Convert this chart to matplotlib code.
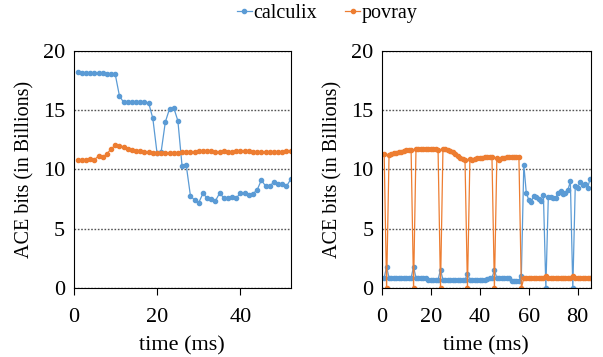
"""
ACE bits over time for calculix and povray, run alone (left) and co-scheduled (right).
"""

import matplotlib.pyplot as plt
import numpy as np

plt.rcParams['font.family'] = ['Liberation Serif', 'DejaVu Serif']
plt.rcParams['font.size'] = 16

# Left panel: 1 ms samples
left_calculix = [18.2, 18.1, 18.1, 18.1, 18.1, 18.1, 18.1, 18.0, 18.0, 18.0,
                 16.2, 15.65, 15.65, 15.65, 15.65, 15.65, 15.65, 15.6, 14.3, 11.4,
                 11.5, 14.0, 15.1, 15.2, 14.1, 10.3, 10.35, 7.8, 7.4, 7.2,
                 7.97, 7.6, 7.5, 7.35, 8.0, 7.6, 7.6, 7.7, 7.6, 8.0,
                 8.0, 7.85, 7.95, 8.28, 9.1, 8.6, 8.6, 8.93, 8.76, 8.76,
                 8.57, 9.15]
left_povray = [10.82, 10.82, 10.82, 10.85, 10.82, 11.13, 11.05, 11.3, 11.73, 12.03,
               11.95, 11.92, 11.7, 11.62, 11.56, 11.56, 11.43, 11.43, 11.38, 11.38,
               11.4, 11.38, 11.4, 11.4, 11.4, 11.46, 11.46, 11.49, 11.49, 11.52,
               11.55, 11.55, 11.52, 11.46, 11.46, 11.52, 11.49, 11.49, 11.52, 11.52,
               11.52, 11.52, 11.49, 11.49, 11.49, 11.49, 11.49, 11.46, 11.46, 11.49,
               11.52, 11.55]

# Right panel: 1 ms samples
right_calculix = [0.86, 1.8, 0.86, 0.86, 0.86, 0.86, 0.86, 0.86, 0.86, 0.86,
                  0.86, 0.86, 1.8, 0.86, 0.86, 0.86, 0.86, 0.86, 0.7, 0.7,
                  0.7, 0.7, 0.7, 1.55, 0.7, 0.7, 0.7, 0.7, 0.7, 0.7,
                  0.7, 0.7, 0.7, 0.7, 1.2, 0.7, 0.7, 0.7, 0.7, 0.7,
                  0.7, 0.7, 0.8, 0.88, 0.88, 1.5, 0.85, 0.85, 0.85, 0.85,
                  0.85, 0.85, 0.63, 0.63, 0.63, 0.63, 1.05, 10.4, 8.05, 7.44,
                  7.22, 7.78, 7.67, 7.5, 7.36, 7.86, 0.0, 7.67, 7.64, 7.6,
                  7.6, 8.05, 8.2, 7.94, 8.0, 8.27, 9.0, 0.0, 8.6, 8.44,
                  8.97, 8.7, 8.77, 8.4, 9.17]
right_povray = [11.33, 0.0, 11.25, 11.3, 11.35, 11.4, 11.45, 11.5, 11.55, 11.6,
                11.6, 11.65, 0.0, 11.75, 11.75, 11.72, 11.7, 11.72, 11.7, 11.7,
                11.68, 11.7, 11.65, 0.0, 11.72, 11.68, 11.6, 11.55, 11.45, 11.3,
                11.15, 11.0, 10.9, 10.78, 0.0, 10.9, 10.75, 10.85, 10.92, 10.97,
                11.0, 11.02, 11.05, 11.05, 11.05, 0.0, 10.97, 10.75, 10.95, 11.0,
                11.02, 11.03, 11.03, 11.05, 11.05, 11.06, 0.0, 0.85, 0.85, 0.85,
                0.85, 0.85, 0.85, 0.85, 0.85, 0.85, 1.05, 0.85, 0.85, 0.85,
                0.85, 0.85, 0.85, 0.85, 0.85, 0.85, 0.85, 1.05, 0.85, 0.85,
                0.85, 0.85, 0.85, 0.85, 0.85]

blue = '#5B9BD5'
orange = '#ED7D31'

fig = plt.figure(figsize=(6.03, 3.57), dpi=100)
ax1 = fig.add_axes([0.1219, 0.193, 0.36, 0.665])
ax2 = fig.add_axes([0.633, 0.193, 0.3466, 0.665])

t_left = np.arange(1, len(left_calculix) + 1)
t_right = np.arange(1, len(right_calculix) + 1)

panels = [(ax1, t_left, left_calculix, left_povray, 52, [0, 20, 40]),
          (ax2, t_right, right_calculix, right_povray, 85.3, [0, 20, 40, 60, 80])]

for ax, t, calc, pov, xmax, xt in panels:
    ax.plot(t, calc, color=blue, lw=0.9, marker='o', ms=3, label='calculix')
    ax.plot(t, pov, color=orange, lw=0.9, marker='o', ms=3, label='povray')

    # Format axes and labels
    ax.set_xlim(0, xmax)
    ax.set_ylim(0, 20)
    ax.set_xticks(xt)
    ax.set_yticks([0, 5, 10, 15, 20])
    ax.set_xlabel('time (ms)', labelpad=7)
    ax.set_ylabel('ACE bits (in Billions)', labelpad=6, fontsize=14.5)
    ax.yaxis.grid(True, linestyle=(0, (1.2, 1.2)), color='#555555', lw=1)
    ax.set_axisbelow(True)
    ax.tick_params(axis='x', direction='out', length=5, width=0.8, pad=9)
    ax.tick_params(axis='y', length=0, pad=6)
    for s in ax.spines.values():
        s.set_linewidth(0.8)
        s.set_color('black')

handles, labels = ax1.get_legend_handles_labels()
fig.legend(handles, labels, loc='upper center', bbox_to_anchor=(0.543, 1.04), ncol=2,
           frameon=False, handlelength=0.7, handletextpad=0.1, columnspacing=1.4,
           fontsize=14.5)

plt.savefig('out.png', dpi=100)
